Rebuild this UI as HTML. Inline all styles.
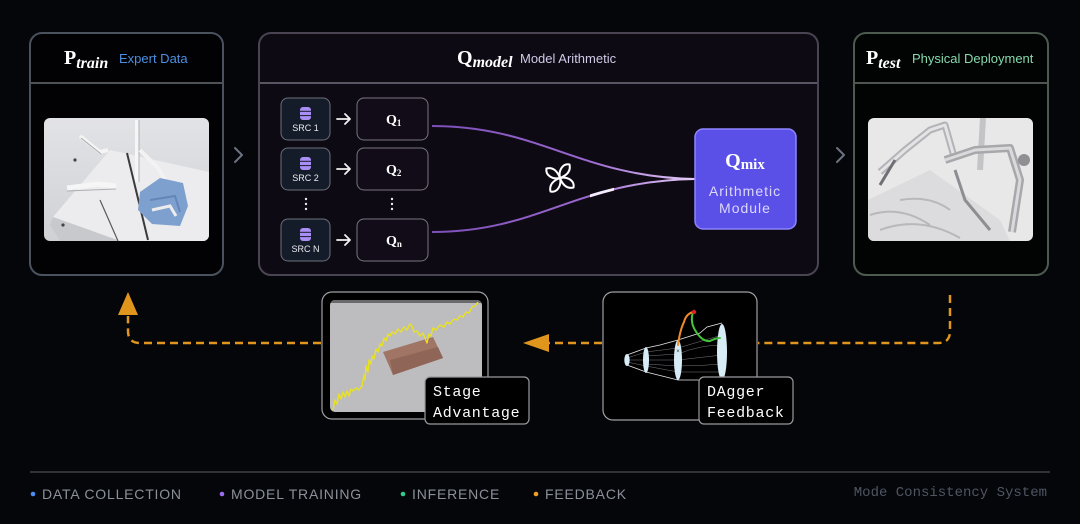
<!DOCTYPE html>
<html><head><meta charset="utf-8"><style>
html,body{margin:0;padding:0;background:#05060a;}
body{width:1080px;height:524px;overflow:hidden;position:relative;}
svg{position:absolute;left:0;top:0;}
</style></head><body>
<svg width="1080" height="524" viewBox="0 0 1080 524" xmlns="http://www.w3.org/2000/svg">
<defs>
<clipPath id="cl1"><rect x="44" y="118" width="165" height="123" rx="6"/></clipPath>
<clipPath id="cl2"><rect x="868" y="118" width="165" height="123" rx="6"/></clipPath>
<clipPath id="cl3"><rect x="330" y="300" width="152" height="112" rx="5"/></clipPath>
<clipPath id="clh"><rect x="590" y="170" width="24" height="30"/></clipPath>
<linearGradient id="g1" x1="0" y1="0" x2="0" y2="1"><stop offset="0" stop-color="#e2e3e6"/><stop offset="1" stop-color="#cfd1d5"/></linearGradient>
<linearGradient id="curve" x1="432" y1="0" x2="690" y2="0" gradientUnits="userSpaceOnUse"><stop offset="0" stop-color="#7d4fb8"/><stop offset="0.6" stop-color="#9a68d0"/><stop offset="1" stop-color="#e2c8f5"/></linearGradient>
</defs>
<rect width="1080" height="524" fill="#05060a"/>

<!-- LEFT CARD -->
<rect x="30" y="33" width="193" height="242" rx="12" fill="#020204" stroke="#4a525e" stroke-width="2"/>
<line x1="31" y1="83" x2="222" y2="83" stroke="#9aa0a8" stroke-width="1"/>
<text x="64" y="64" font-family="Liberation Serif, serif" font-weight="bold" font-size="20" fill="#fff">P<tspan font-style="italic" font-size="16" dy="4">train</tspan></text>
<text x="119" y="63" font-family="Liberation Sans, sans-serif" font-size="13" fill="#4b8fe2">Expert Data</text>
<g clip-path="url(#cl1)">
<rect x="44" y="118" width="165" height="123" fill="url(#g1)"/>
<polygon points="53,217 110,150 209,172 209,241 120,241" fill="#ececee"/>
<polygon points="53,217 120,241 60,241 50,225" fill="#c8c9cc"/>
<line x1="127" y1="153" x2="148" y2="240" stroke="#3a3a3c" stroke-width="2"/>
<line x1="100" y1="200" x2="118" y2="241" stroke="#5a5a5c" stroke-width="1.2"/>
<line x1="137" y1="120" x2="137" y2="182" stroke="#f6f6f6" stroke-width="4"/>
<line x1="139" y1="120" x2="139" y2="182" stroke="#b0b0b4" stroke-width="1"/>
<path d="M80 136 L100 152 L108 150" stroke="#f4f4f4" stroke-width="4" fill="none"/>
<path d="M81 138 L101 154" stroke="#a8a8ac" stroke-width="1" fill="none"/>
<path d="M67 188 L98 184 L116 186" stroke="#f6f6f6" stroke-width="5" fill="none"/>
<path d="M67 191 L116 189" stroke="#b0b0b4" stroke-width="1" fill="none"/>
<path d="M140 150 L158 168 L165 180" stroke="#f2f2f2" stroke-width="4" fill="none"/>
<polygon points="140,192 160,178 183,183 188,206 180,226 152,224 138,210" fill="#7ea0cf"/>
<path d="M150 200 L175 196 L180 212" stroke="#6385b8" stroke-width="2" fill="none"/>
<path d="M152 210 L170 206 L176 216" stroke="#ececec" stroke-width="3" fill="none"/>
<circle cx="75" cy="160" r="1.6" fill="#444"/><circle cx="63" cy="225" r="1.6" fill="#444"/>
</g>
<polyline points="235,148 242,155 235,162" fill="none" stroke="#6b7280" stroke-width="2" stroke-linecap="round" stroke-linejoin="round"/>

<!-- MIDDLE CARD -->
<rect x="259" y="33" width="559" height="242" rx="12" fill="#0e0a14" stroke="#4a4452" stroke-width="2"/>
<line x1="260" y1="83" x2="817" y2="83" stroke="#a8a0b2" stroke-width="1"/>
<text x="457" y="64" font-family="Liberation Serif, serif" font-weight="bold" font-size="20" fill="#fff">Q<tspan font-style="italic" font-size="16" dy="3">model</tspan></text>
<text x="520" y="63" font-family="Liberation Sans, sans-serif" font-size="13" fill="#cfcbe6">Model Arithmetic</text>

<!-- SRC boxes -->
<g font-family="Liberation Sans, sans-serif" font-size="9" fill="#e8eaf0" text-anchor="middle">
<rect x="281" y="98" width="49" height="42" rx="7" fill="#151c29" stroke="#6a6f7a" stroke-width="1"/>
<rect x="281" y="148" width="49" height="42" rx="7" fill="#151c29" stroke="#6a6f7a" stroke-width="1"/>
<rect x="281" y="219" width="49" height="42" rx="7" fill="#151c29" stroke="#6a6f7a" stroke-width="1"/>
<text x="305.5" y="131">SRC 1</text>
<text x="305.5" y="181">SRC 2</text>
<text x="305.5" y="252">SRC N</text>
</g>
<g fill="#a98ef5">
<g id="db"><rect x="300" y="107" width="11" height="13" rx="3"/><line x1="300" y1="111.3" x2="311" y2="111.3" stroke="#151c29" stroke-width="1"/><line x1="300" y1="115.6" x2="311" y2="115.6" stroke="#151c29" stroke-width="1"/></g>
<use href="#db" y="50"/>
<use href="#db" y="121"/>
</g>
<!-- arrows -->
<g stroke="#f2f2f2" stroke-width="1.8" fill="none" stroke-linecap="round" stroke-linejoin="round">
<path d="M337 119 H350 M345 114 L350 119 L345 124"/>
<path d="M337 169 H350 M345 164 L350 169 L345 174"/>
<path d="M337 240 H350 M345 235 L350 240 L345 245"/>
</g>
<!-- Q boxes -->
<g fill="#120c18" stroke="#7a7482" stroke-width="1">
<rect x="357" y="98" width="71" height="42" rx="7"/>
<rect x="357" y="148" width="71" height="42" rx="7"/>
<rect x="357" y="219" width="71" height="42" rx="7"/>
</g>
<g font-family="Liberation Serif, serif" font-weight="bold" font-size="14" fill="#fff">
<text x="386" y="124">Q<tspan font-size="9" dy="2">1</tspan></text>
<text x="386" y="174">Q<tspan font-size="9" dy="2">2</tspan></text>
<text x="386" y="245">Q<tspan font-size="9" dy="2">n</tspan></text>
</g>
<!-- vertical dots -->
<g fill="#e8e8ee">
<circle cx="306" cy="199" r="1.2"/><circle cx="306" cy="204" r="1.2"/><circle cx="306" cy="209" r="1.2"/>
<circle cx="392" cy="199" r="1.2"/><circle cx="392" cy="204" r="1.2"/><circle cx="392" cy="209" r="1.2"/>
</g>
<!-- curves -->
<path d="M432 126 C540 126, 580 177, 695 179" stroke="url(#curve)" stroke-width="2" fill="none"/>
<path d="M432 232 C540 232, 575 181, 695 179" stroke="url(#curve)" stroke-width="2" fill="none"/>
<path d="M432 232 C540 232, 575 181, 695 179" stroke="#f5ecff" stroke-width="2.8" fill="none" clip-path="url(#clh)"/>
<!-- flower -->
<g transform="translate(560,178) rotate(10)" stroke="#fff" stroke-width="2" fill="none" stroke-linejoin="round">
<path d="M0,0 C-3,-7 0,-15 7,-15 C10,-8 5,-3 0,0 Z"/>
<path d="M0,0 C-3,-7 0,-15 7,-15 C10,-8 5,-3 0,0 Z" transform="rotate(90)"/>
<path d="M0,0 C-3,-7 0,-15 7,-15 C10,-8 5,-3 0,0 Z" transform="rotate(180)"/>
<path d="M0,0 C-3,-7 0,-15 7,-15 C10,-8 5,-3 0,0 Z" transform="rotate(270)"/>
</g>
<!-- Qmix -->
<rect x="695" y="129" width="101" height="100" rx="8" fill="#5a4fe6" stroke="#8d85ff" stroke-width="1.5"/>
<text x="745" y="167" text-anchor="middle" font-family="Liberation Serif, serif" font-weight="bold" font-size="20" fill="#fff">Q<tspan font-size="15" dy="2">mix</tspan></text>
<text x="745" y="196" text-anchor="middle" font-family="Liberation Sans, sans-serif" font-size="14" letter-spacing="1" fill="#dcd8ff">Arithmetic</text>
<text x="745" y="213" text-anchor="middle" font-family="Liberation Sans, sans-serif" font-size="14" letter-spacing="1" fill="#dcd8ff">Module</text>

<!-- RIGHT CARD -->
<polyline points="837,148 844,155 837,162" fill="none" stroke="#6b7280" stroke-width="2" stroke-linecap="round" stroke-linejoin="round"/>
<rect x="854" y="33" width="194" height="242" rx="12" fill="#020403" stroke="#4c5a50" stroke-width="2"/>
<line x1="855" y1="83" x2="1047" y2="83" stroke="#9aa39c" stroke-width="1"/>
<text x="866" y="64" font-family="Liberation Serif, serif" font-weight="bold" font-size="20" fill="#fff">P<tspan font-style="italic" font-size="16" dy="4">test</tspan></text>
<text x="912" y="63" font-family="Liberation Sans, sans-serif" font-size="13" fill="#86d9ad">Physical Deployment</text>
<g clip-path="url(#cl2)">
<rect x="868" y="118" width="165" height="123" fill="#e8e8e9"/>
<polygon points="868,200 930,170 1000,220 1010,241 868,241" fill="#dcdcde"/>
<path d="M870 215 Q900 205 930 225 M880 230 Q920 215 960 238 M900 200 Q930 195 950 210" stroke="#b8b8bb" stroke-width="2" fill="none"/>
<line x1="983" y1="118" x2="980" y2="170" stroke="#c4c4c6" stroke-width="6"/>
<path d="M880 172 L905 150 L930 130 L945 125 L955 160" stroke="#b4b4b8" stroke-width="7" fill="none" stroke-linejoin="round"/>
<path d="M880 172 L905 150 L930 130 L945 125 L955 160" stroke="#e4e4e6" stroke-width="3" fill="none" stroke-linejoin="round"/>
<path d="M945 160 L975 150 L1010 148 L1020 180 L1012 232" stroke="#a8a8ac" stroke-width="8" fill="none" stroke-linejoin="round"/>
<path d="M945 160 L975 150 L1010 148 L1020 180 L1012 232" stroke="#dadadc" stroke-width="3" fill="none" stroke-linejoin="round"/>
<path d="M955 170 L965 200 L990 230" stroke="#8e8e92" stroke-width="3" fill="none"/>
<path d="M895 160 L880 185" stroke="#707074" stroke-width="3"/>
<circle cx="1024" cy="160" r="6" fill="#909094"/>
</g>

<!-- BOTTOM: Stage Advantage -->
<rect x="322" y="292" width="166" height="127" rx="10" fill="#000" stroke="#a0a0a4" stroke-width="1.2"/>
<g clip-path="url(#cl3)">
<rect x="330" y="300" width="152" height="112" fill="#bdbdbf"/>
<rect x="330" y="300" width="152" height="3" fill="#6a6a6c"/>
<polygon points="383,352 433,337 443,358 393,375" fill="#a07565"/>
<polygon points="390,360 438,347 443,358 393,375" fill="#8e6556"/>
<polyline fill="none" stroke="#eae21e" stroke-width="1.4" stroke-linejoin="round" points="333,410 335,400 337,404 339,394 341,399 343,392 345,397 347,391 349,396 351,389 353,391 356,388 359,390 362,386 364,375 365,380 366,366 368,372 369,360 371,364 372,356 374,359 376,349 378,352 380,344 382,346 384,338 386,341 388,334 390,336 392,332 395,334 398,329 401,332 404,327 407,330 410,324 412,326 414,332 417,331 420,336 423,333 425,338 427,343 429,334 431,336 433,328 436,330 440,325 444,327 447,322 450,324 454,319 457,320 460,316 463,317 466,312 469,313 472,307 475,306 478,302"/>
</g>
<rect x="425" y="377" width="104" height="47" rx="5" fill="#000" stroke="#9a9a9e" stroke-width="1.2"/>
<text x="433" y="396" font-family="Liberation Mono, monospace" font-size="15" letter-spacing="0.7" fill="#fff">Stage</text>
<text x="433" y="417" font-family="Liberation Mono, monospace" font-size="15" letter-spacing="0.7" fill="#fff">Advantage</text>

<!-- BOTTOM: DAgger -->
<rect x="603" y="292" width="154" height="128" rx="10" fill="#000" stroke="#a0a0a4" stroke-width="1.2"/>
<g fill="none" stroke="#e8e8ea" stroke-width="0.8">
<path d="M627 355 L646 348 L660 345 L678 340 L700 333 L707 327 L722 323"/>
<path d="M627 365 L646 372 L678 380 L700 380 L722 380"/>
</g>
<g fill="none" stroke="#7a7a80" stroke-width="0.5">
<path d="M627 358 L646 352 L678 348 L722 335"/>
<path d="M627 362 L646 366 L678 372 L722 372"/>
<path d="M627 360 L646 360 L678 360 L722 355"/>
<path d="M646 356 L678 354 Q700 345 722 345"/>
<path d="M646 364 L678 366 Q700 366 722 364"/>
</g>
<g fill="#d6ecf7">
<ellipse cx="627" cy="360" rx="2.7" ry="6"/>
<ellipse cx="646" cy="360" rx="3" ry="13"/>
<ellipse cx="678" cy="360" rx="4" ry="20"/>
<ellipse cx="722" cy="352" rx="5" ry="28"/>
</g>
<path d="M678 345 Q680 330 684 322 Q686 314 693 312" stroke="#f08a2a" stroke-width="2" fill="none" stroke-linecap="round"/>
<path d="M693 312 Q690 322 695 330 Q702 342 710 341 Q716 338 720 338" stroke="#46c43c" stroke-width="2" fill="none" stroke-linecap="round"/>
<circle cx="694" cy="312" r="2.2" fill="#e02020"/>
<text x="678" y="353" font-family="Liberation Sans, sans-serif" font-size="6" fill="#333" text-anchor="middle">×</text>
<rect x="699" y="377" width="94" height="47" rx="5" fill="#000" stroke="#9a9a9e" stroke-width="1.2"/>
<text x="707" y="396" font-family="Liberation Mono, monospace" font-size="15" letter-spacing="0.7" fill="#fff">DAgger</text>
<text x="707" y="417" font-family="Liberation Mono, monospace" font-size="15" letter-spacing="0.7" fill="#fff">Feedback</text>

<!-- orange dashed feedback -->
<g stroke="#e0961c" stroke-width="2.5" fill="none" stroke-dasharray="8 5">
<path d="M950 295 L950 331 Q950 343 938 343 L758 343"/>
<path d="M602 343 L548 343"/>
<path d="M321 343 L140 343 Q128 343 128 331 L128 316"/>
</g>
<polygon points="523,343 549,334 549,352" fill="#e0961c"/>
<polygon points="128,292 118,315 138,315" fill="#e0961c"/>

<!-- footer -->
<line x1="30" y1="472" x2="1050" y2="472" stroke="#5a5d63" stroke-width="1"/>
<g font-family="Liberation Sans, sans-serif" font-size="14" letter-spacing="0.8" fill="#8b909a">
<circle cx="33" cy="494" r="2.3" fill="#4a8ff0"/><text x="42" y="499">DATA COLLECTION</text>
<circle cx="222" cy="494" r="2.3" fill="#9b6cf0"/><text x="231" y="499">MODEL TRAINING</text>
<circle cx="403" cy="494" r="2.3" fill="#2ecc8f"/><text x="412" y="499">INFERENCE</text>
<circle cx="536" cy="494" r="2.3" fill="#f0a020"/><text x="545" y="499">FEEDBACK</text>
</g>
<text x="1047" y="496" text-anchor="end" font-family="Liberation Mono, monospace" font-size="14" fill="#4f5563">Mode Consistency System</text>
</svg>
</body></html>
